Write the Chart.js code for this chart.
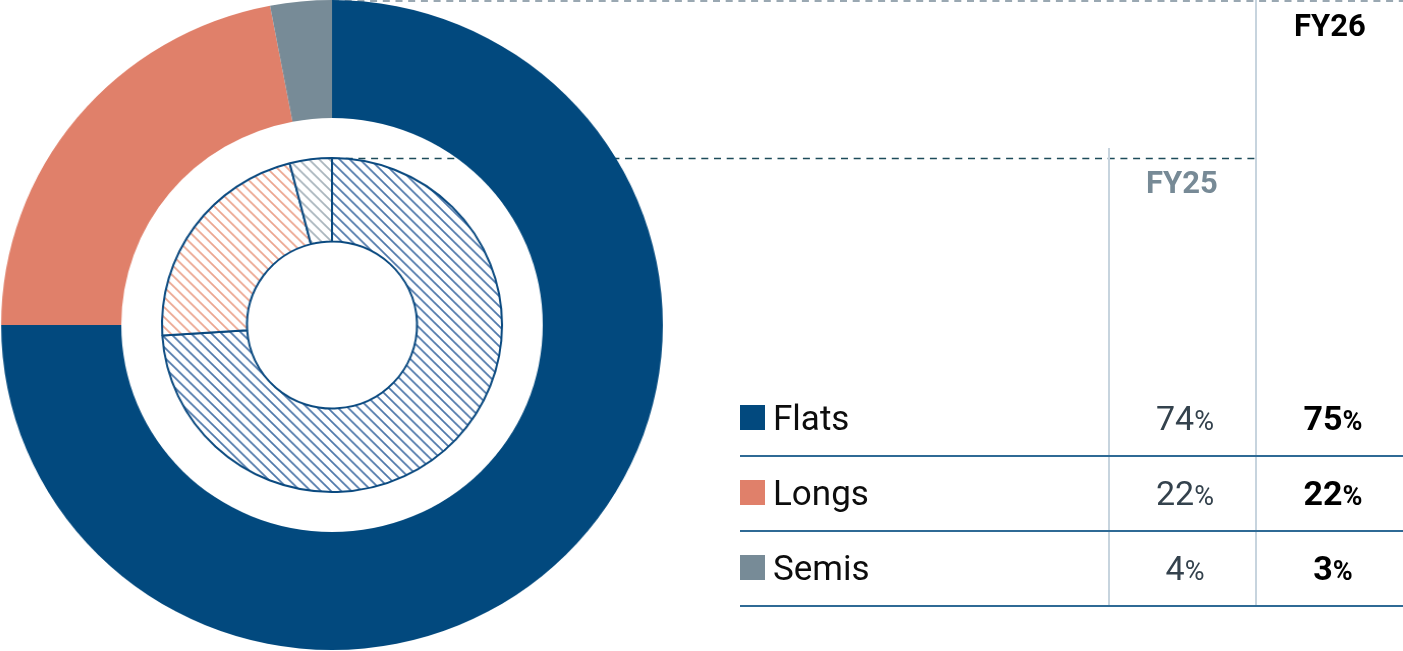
<!DOCTYPE html>
<html>
<head>
<meta charset="utf-8">
<script src="https://cdn.jsdelivr.net/npm/chart.js@4.4.1/dist/chart.umd.min.js"></script>
<style>
  html, body { margin: 0; padding: 0; background: #ffffff; }
  #stage { position: relative; width: 1403px; height: 651px; overflow: hidden; background: #fff; }
  #lines { position: absolute; left: 0; top: 0; }
  #wrap { position: absolute; left: 0; top: 0; width: 664px; height: 650px;
          transform: scaleX(1.018); transform-origin: 332px 325px; }
  #txt { position: absolute; left: 0; top: 0; }
</style>
</head>
<body>
<div id="stage">
  <svg id="lines" width="1403" height="651"></svg>
  <div id="wrap"><canvas id="c"></canvas></div>
  <svg id="txt" width="1403" height="651"></svg>
</div>
<script>
// ---- data ----
const categories = ['Flats', 'Longs', 'Semis'];
const fy26 = [75, 22, 3];
const fy25 = [74, 22, 4];
const seriesLabels = ['FY25', 'FY26'];

// ---- styles ----
const solidColors = ['#02497e', '#e0806a', '#778b97'];
const hatchColors = ['#5079ab', '#eca690', '#a9b5bd'];

function hatch(color) {
  const s = 10;
  const c = document.createElement('canvas');
  c.width = s; c.height = s;
  const g = c.getContext('2d');
  g.fillStyle = '#ffffff';
  g.fillRect(0, 0, s, s);
  g.strokeStyle = color;
  g.lineWidth = 1.7;
  g.beginPath();
  g.moveTo(-1, -1); g.lineTo(s + 1, s + 1);
  g.moveTo(-1, s - 1); g.lineTo(1, s + 1);
  g.moveTo(s - 1, -1); g.lineTo(s + 1, 1);
  g.stroke();
  return document.getElementById('c').getContext('2d').createPattern(c, 'repeat');
}

new Chart(document.getElementById('c'), {
  type: 'doughnut',
  data: {
    labels: categories,
    datasets: [
      { label: seriesLabels[1], data: fy26, backgroundColor: solidColors, borderWidth: 0, weight: 118 },
      { label: 'gap', data: [1], backgroundColor: 'rgba(0,0,0,0)', borderWidth: 0, weight: 40 },
      { label: seriesLabels[0], data: fy25, backgroundColor: hatchColors.map(hatch),
        borderColor: '#0b4a80', borderWidth: 2, weight: 83.5 }
    ]
  },
  options: {
    responsive: true,
    maintainAspectRatio: false,
    animation: false,
    events: [],
    radius: 325,
    cutout: '25.7%',
    layout: { padding: 0 },
    plugins: { legend: { display: false }, tooltip: { enabled: false } }
  }
});

// ---- lines (table guides) ----
const NS = 'http://www.w3.org/2000/svg';
function el(parent, name, attrs, text) {
  const e = document.createElementNS(NS, name);
  for (const k in attrs) e.setAttribute(k, attrs[k]);
  if (text !== undefined) e.textContent = text;
  parent.appendChild(e);
  return e;
}
const L = document.getElementById('lines');
el(L, 'line', { x1: 332, y1: 1, x2: 1403, y2: 1, stroke: '#9aa8b2', 'stroke-width': 2, 'stroke-dasharray': '7 5.7' });
el(L, 'line', { x1: 333, y1: 158.5, x2: 1256, y2: 158.5, stroke: '#1d4b5a', 'stroke-width': 1.6, 'stroke-dasharray': '7 5.7' });
el(L, 'line', { x1: 1109, y1: 148, x2: 1109, y2: 605, stroke: '#c7d4de', 'stroke-width': 2 });
el(L, 'line', { x1: 1256, y1: 0, x2: 1256, y2: 605, stroke: '#c7d4de', 'stroke-width': 2 });
[456, 531, 606].forEach(y => el(L, 'line', { x1: 740, y1: y, x2: 1403, y2: y, stroke: '#2f6a95', 'stroke-width': 2 }));

// ---- texts ----
const T = document.getElementById('txt');
const font = 'Roboto, "Liberation Sans", sans-serif';
el(T, 'text', { x: 1330, y: 36, 'text-anchor': 'middle', 'font-family': font, 'font-size': 31, 'font-weight': 700, fill: '#000' }, seriesLabels[1]);
el(T, 'text', { x: 1182, y: 193, 'text-anchor': 'middle', 'font-family': font, 'font-size': 31, 'font-weight': 700, fill: '#778a96' }, seriesLabels[0]);
const baselines = [430, 505, 580];
categories.forEach((cat, i) => {
  const y = baselines[i];
  el(T, 'rect', { x: 740, y: y - 25, width: 25, height: 25, fill: solidColors[i] });
  el(T, 'text', { x: 773, y: y, 'font-family': font, 'font-size': 35, 'font-weight': 400, fill: '#0d0d0d' }, cat);
  const t1 = el(T, 'text', { x: 1185, y: y, 'text-anchor': 'middle', 'font-family': font, 'font-size': 34, 'font-weight': 400, fill: '#34424d' });
  el(t1, 'tspan', {}, String(fy25[i]));
  el(t1, 'tspan', { 'font-size': 27 }, '%');
  const t2 = el(T, 'text', { x: 1333, y: y, 'text-anchor': 'middle', 'font-family': font, 'font-size': 34, 'font-weight': 700, fill: '#000' });
  el(t2, 'tspan', {}, String(fy26[i]));
  el(t2, 'tspan', { 'font-size': 27 }, '%');
});
</script>
</body>
</html>
